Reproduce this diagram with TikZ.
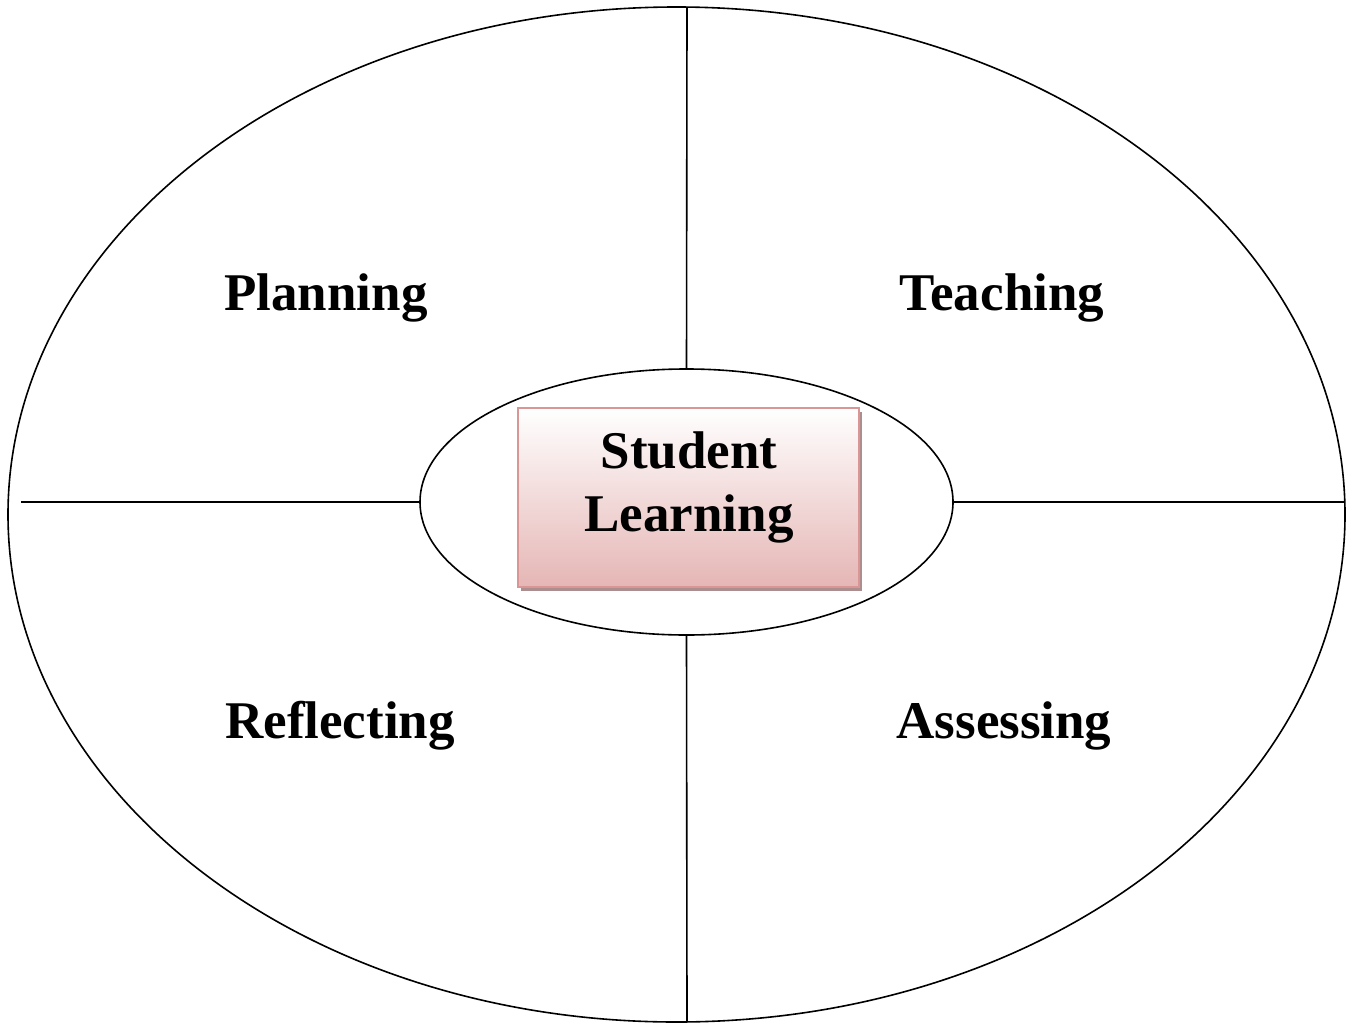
\documentclass[tikz,border=0pt]{standalone}
\usepackage{fontspec}
\setmainfont{Liberation Serif}
\usetikzlibrary{shapes.geometric,shadows}
\definecolor{boxedge}{RGB}{217,150,148}
\definecolor{boxlow}{RGB}{229,182,181}
\definecolor{boxshade}{RGB}{172,142,142}
\tikzset{
  ring/.style={ellipse,draw=black,line width=1.6pt,inner sep=0pt},
  divider/.style={draw=black,line width=1.6pt},
  phase/.style={font=\fontsize{53}{63}\selectfont\bfseries,anchor=base,inner sep=0pt},
  corebox/.style={draw=boxedge,line width=1.5pt,top color=white,bottom color=boxlow,
    minimum width=341pt,minimum height=179pt,inner sep=0pt,
    drop shadow={shadow xshift=3pt,shadow yshift=-4pt,fill=boxshade,opacity=1}}
}
\begin{document}
\begin{tikzpicture}[x=1pt,y=-1pt]
\useasboundingbox (0,0) rectangle (1351,1025);
% outer cycle and inner hub
\node[ring,minimum width=1337pt,minimum height=1015pt] (outer) at (676.5,514.5) {};
\node[ring,minimum width=533pt,minimum height=266pt] (inner) at (686.5,502) {};
% ends of the four dividers on the outer ring
\coordinate (topEnd) at (687,7);
\coordinate (botEnd) at (687,1022);
\coordinate (leftEnd) at (21,502);
\coordinate (rightEnd) at (1345,502);
\draw[divider] (inner.north) -- (topEnd);
\draw[divider] (inner.south) -- (botEnd);
\draw[divider] (inner.west) -- (leftEnd);
\draw[divider] (inner.east) -- (rightEnd);
% central box
\node[corebox] (core) at (688.5,497.5) {};
\node[phase,align=center,anchor=base] (coretext) at (689,531) {Student\\Learning};
% quadrant labels
\node[phase] (plan) at (326,310) {Planning};
\node[phase] (teach) at (1002,310) {Teaching};
\node[phase] (reflect) at (340,738) {Reflecting};
\node[phase] (assess) at (1004,738) {Assessing};
\end{tikzpicture}
\end{document}
